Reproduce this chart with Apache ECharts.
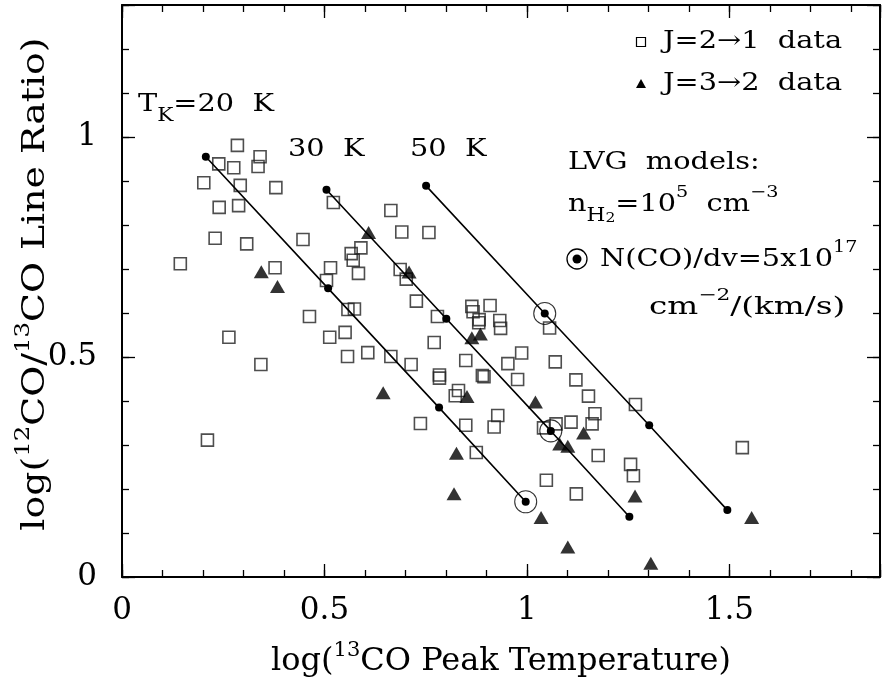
<!DOCTYPE html>
<html>
<head>
<meta charset="utf-8">
<script src="https://cdn.jsdelivr.net/npm/echarts@6/dist/echarts.min.js"></script>
<style>
  html, body { margin: 0; padding: 0; background: #fff; }
  #main { width: 885px; height: 684px; }
</style>
</head>
<body>
<div id="main"></div>
<script>
// J=2->1 data (open squares): [log T(13CO), log ratio]
const j21Data = [
  [0.285, 0.981], [0.239, 0.939], [0.276, 0.930], [0.341, 0.955], [0.336, 0.933],
  [0.202, 0.896], [0.292, 0.890], [0.380, 0.885], [0.240, 0.840], [0.288, 0.844],
  [0.522, 0.851], [0.230, 0.770], [0.308, 0.757], [0.447, 0.767], [0.144, 0.712],
  [0.378, 0.703], [0.566, 0.735], [0.590, 0.748], [0.571, 0.720], [0.584, 0.690],
  [0.515, 0.703], [0.505, 0.674], [0.463, 0.592], [0.558, 0.608], [0.574, 0.609],
  [0.264, 0.545], [0.513, 0.545], [0.551, 0.556], [0.607, 0.510], [0.343, 0.483],
  [0.557, 0.501], [0.211, 0.311], [0.664, 0.833], [0.691, 0.784], [0.758, 0.783],
  [0.687, 0.699], [0.702, 0.677], [0.727, 0.627], [0.779, 0.592], [0.864, 0.615],
  [0.867, 0.603], [0.909, 0.617], [0.882, 0.585], [0.881, 0.578], [0.933, 0.583],
  [0.935, 0.565], [1.056, 0.566], [0.771, 0.533], [0.664, 0.501], [0.714, 0.483],
  [0.849, 0.492], [0.987, 0.509], [0.953, 0.485], [1.070, 0.489], [1.121, 0.448],
  [0.977, 0.449], [0.784, 0.459], [0.784, 0.452], [0.890, 0.458], [0.894, 0.455],
  [0.831, 0.424], [0.823, 0.412], [1.152, 0.411], [0.928, 0.367], [0.737, 0.349],
  [0.849, 0.345], [0.919, 0.341], [1.109, 0.352], [1.168, 0.371], [1.161, 0.348],
  [1.041, 0.339], [1.072, 0.348], [0.875, 0.283], [1.176, 0.276], [1.048, 0.220],
  [1.122, 0.189], [1.268, 0.392], [1.532, 0.294], [1.256, 0.256], [1.263, 0.230]
]
// J=3->2 data (filled triangles)
const j32Data = [
  [0.609, 0.783], [0.344, 0.694], [0.384, 0.660], [0.709, 0.693], [0.864, 0.544],
  [0.885, 0.552], [0.645, 0.419], [0.852, 0.410], [1.021, 0.398], [1.140, 0.327],
  [1.081, 0.302], [1.101, 0.297], [0.826, 0.281], [0.820, 0.189], [1.035, 0.135],
  [1.101, 0.068], [1.267, 0.184], [1.555, 0.135], [1.306, 0.031]
]
// LVG model tracks
const model20K = [[0.207, 0.955], [0.509, 0.656], [0.783, 0.385], [0.997, 0.171]]
const model30K = [[0.505, 0.880], [0.801, 0.587], [1.059, 0.332], [1.253, 0.137]]
const model50K = [[0.751, 0.889], [1.044, 0.599], [1.302, 0.345], [1.495, 0.152]]
// N(CO)/dv = 5x10^17 points
const circledPoints = [[0.997, 0.171], [1.059, 0.332], [1.044, 0.599]]

const xTickLabels = [0, 0.5, 1, 1.5]
const yTickLabels = [0, 0.5, 1]
const X_MAX = 1.872
const Y_MAX = 1.3

const FONT = 'DejaVu Serif'
const chart = echarts.init(document.getElementById('main'))

function isLabel (v, list) {
  return list.some(t => Math.abs(t - v) < 1e-6)
}

// one frame side: either long ticks at 0.5 or short ticks at 0.1
function frameAxis (position, max, major, extra) {
  return Object.assign({
    type: 'value',
    position: position,
    min: 0,
    max: max,
    interval: major ? 0.5 : 0.1,
    axisLine: { show: major, onZero: false, lineStyle: { color: '#000', width: 2 } },
    axisTick: { show: true, inside: true, length: major ? 13 : 7, lineStyle: { color: '#000', width: 1.3 } },
    axisLabel: { show: false },
    splitLine: { show: false }
  }, extra || {})
}

const tickLabelStyle = { fontFamily: FONT, fontSize: 31, color: '#000' }
const supStyle = { fontFamily: FONT, fontSize: 21, color: '#000', verticalAlign: 'top', lineHeight: 18 }
const nStyle = { fontFamily: FONT, fontSize: 32, color: '#000' }

const option = {
  animation: false,
  backgroundColor: '#fff',
  grid: { left: 122, right: 5, top: 5, bottom: 107, outerBoundsMode: 'none', containLabel: false },
  xAxis: [
    frameAxis('bottom', X_MAX, true, {
      axisLabel: Object.assign({
        show: true,
        margin: 18,
        formatter: v => isLabel(v, xTickLabels) ? String(v) : ''
      }, tickLabelStyle),
      name: '{n|log(}{sup|13}{n|CO Peak Temperature)}',
      nameLocation: 'middle',
      nameGap: 63,
      nameMoveOverlap: false,
      nameTextStyle: { fontFamily: FONT, fontSize: 32, color: '#000', lineHeight: 44, rich: { n: nStyle, sup: supStyle } }
    }),
    frameAxis('bottom', X_MAX, false),
    frameAxis('top', X_MAX, true),
    frameAxis('top', X_MAX, false)
  ],
  yAxis: [
    frameAxis('left', Y_MAX, true, {
      axisLabel: Object.assign({
        show: true,
        margin: 25,
        formatter: v => isLabel(v, yTickLabels) ? String(v) : ''
      }, tickLabelStyle)
    }),
    frameAxis('left', Y_MAX, false),
    frameAxis('right', Y_MAX, true),
    frameAxis('right', Y_MAX, false)
  ],
  series: [
    { name: '20 K', type: 'line', data: model20K, symbol: 'circle', symbolSize: 8, itemStyle: { color: '#000' }, lineStyle: { color: '#000', width: 1.6 }, z: 3 },
    { name: '30 K', type: 'line', data: model30K, symbol: 'circle', symbolSize: 8, itemStyle: { color: '#000' }, lineStyle: { color: '#000', width: 1.6 }, z: 3 },
    { name: '50 K', type: 'line', data: model50K, symbol: 'circle', symbolSize: 8, itemStyle: { color: '#000' }, lineStyle: { color: '#000', width: 1.6 }, z: 3 },
    { name: 'N(CO)/dv', type: 'scatter', data: circledPoints, symbol: 'circle', symbolSize: 22, itemStyle: { color: 'rgba(0,0,0,0)', borderColor: '#000', borderWidth: 1.1 }, z: 4 },
    { name: 'J=2→1 data', type: 'scatter', data: j21Data, symbol: 'rect', symbolSize: 12, itemStyle: { color: 'rgba(0,0,0,0)', borderColor: '#222', borderWidth: 1.6 }, z: 2 },
    { name: 'J=3→2 data', type: 'scatter', data: j32Data, symbol: 'triangle', symbolSize: [15, 13], itemStyle: { color: '#000' }, z: 2 }
  ],
  graphic: []
}

// annotation text, widened a bit to get closer to the plotting font
function note (x, y, text, stretch) {
  return {
    type: 'text',
    x: x,
    y: y,
    scaleX: stretch || 1.2,
    z: 10,
    style: {
      text: text,
      fontFamily: FONT,
      fontSize: 24,
      lineHeight: 40,
      fill: '#000',
      align: 'left',
      verticalAlign: 'middle',
      rich: {
        sup: { fontFamily: FONT, fontSize: 16, lineHeight: 16, verticalAlign: 'top', fill: '#000' },
        sub: { fontFamily: FONT, fontSize: 18, lineHeight: 18, verticalAlign: 'bottom', fill: '#000' },
        subsub: { fontFamily: FONT, fontSize: 13, lineHeight: 8, verticalAlign: 'bottom', fill: '#000' }
      }
    }
  }
}

option.graphic = [
  // y axis title, rotated and stretched along the baseline
  {
    type: 'text',
    x: 36,
    y: 284,
    rotation: Math.PI / 2,
    scaleX: 1.22,
    z: 10,
    style: {
      text: 'log({sup|12}CO/{sup|13}CO Line Ratio)',
      fontFamily: FONT,
      fontSize: 31,
      lineHeight: 44,
      fill: '#000',
      align: 'center',
      verticalAlign: 'middle',
      rich: {
        sup: { fontFamily: FONT, fontSize: 20, lineHeight: 18, verticalAlign: 'top', fill: '#000' }
      }
    }
  },
  note(138, 105, 'T{sub|K}=20  K'),
  note(288, 150, '30  K'),
  note(410, 150, '50  K'),
  // legend
  { type: 'rect', shape: { x: 636.5, y: 37.5, width: 9, height: 9 }, style: { fill: 'none', stroke: '#000', lineWidth: 1.2 }, z: 10 },
  note(663, 42, 'J=2→1  data'),
  { type: 'polygon', shape: { points: [[641, 79], [646, 88], [636, 88]] }, style: { fill: '#000' }, z: 10 },
  note(663, 84, 'J=3→2  data'),
  note(568, 163, 'LVG  models:'),
  note(568, 205, 'n{sub|H}{subsub|2}=10{sup|5}  cm{sup|−3}'),
  { type: 'circle', shape: { cx: 577, cy: 259, r: 10 }, style: { fill: 'none', stroke: '#000', lineWidth: 1.3 }, z: 10 },
  { type: 'circle', shape: { cx: 577, cy: 259, r: 4.5 }, style: { fill: '#000' }, z: 10 },
  note(600, 260, 'N(CO)/dv=5x10{sup|17}'),
  note(649, 308, 'cm{sup|−2}/(km/s)', 1.36)
]

chart.setOption(option)
</script>
</body>
</html>
